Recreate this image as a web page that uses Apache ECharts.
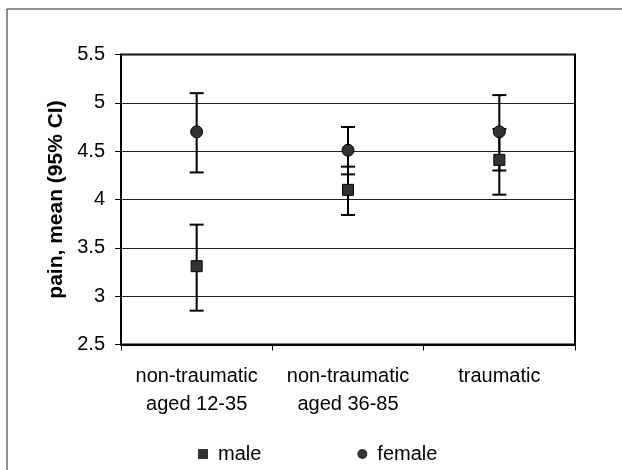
<!DOCTYPE html>
<html>
<head>
<meta charset="utf-8">
<script src="https://cdn.jsdelivr.net/npm/echarts@6/dist/echarts.min.js"></script>
<style>
html, body { margin: 0; padding: 0; background: #fff; }
#chart { width: 622px; height: 470px; }
</style>
</head>
<body>
<div id="chart"></div>
<script>
// data
var categories = ['non-traumatic\naged 12-35', 'non-traumatic\naged 36-85', 'traumatic'];
var maleMean = [3.31, 4.10, 4.41];
var maleLow = [2.85, 3.84, 4.05];
var maleHigh = [3.74, 4.34, 4.73];
var femaleMean = [4.70, 4.51, 4.70];
var femaleLow = [4.28, 4.26, 4.30];
var femaleHigh = [5.10, 4.75, 5.08];
var yTicks = [2.5, 3, 3.5, 4, 4.5, 5, 5.5];

var FONT = 'Liberation Sans';

function barData(low, high) {
    var out = [];
    for (var i = 0; i < low.length; i++) out.push([i, low[i], high[i]]);
    return out;
}

// draws the CI whisker with caps
function renderErrorBar(params, api) {
    var x = api.value(0);
    var top = api.coord([x, api.value(2)]);
    var bot = api.coord([x, api.value(1)]);
    var half = 7;
    var st = { stroke: '#000', lineWidth: 2 };
    return {
        type: 'group',
        children: [
            { type: 'line', shape: { x1: top[0], y1: top[1], x2: bot[0], y2: bot[1] }, style: st },
            { type: 'line', shape: { x1: top[0] - half, y1: top[1], x2: top[0] + half, y2: top[1] }, style: st },
            { type: 'line', shape: { x1: bot[0] - half, y1: bot[1], x2: bot[0] + half, y2: bot[1] }, style: st }
        ]
    };
}

var chart = echarts.init(document.getElementById('chart'));

chart.setOption({
    backgroundColor: '#fff',
    animation: false,
    graphic: [{
        type: 'rect',
        shape: { x: 7, y: 9, width: 700, height: 600 },
        style: { fill: 'none', stroke: '#222', lineWidth: 1 },
        silent: true
    }],
    grid: {
        left: 121, right: 47, top: 54.5, bottom: 125.5,
        show: true, borderColor: '#000', borderWidth: 2, backgroundColor: '#fff'
    },
    legend: {
        left: 193, top: 439,
        itemWidth: 10, itemHeight: 10, itemGap: 96,
        textStyle: { fontFamily: FONT, fontSize: 20, color: '#000', padding: [0, 0, 0, 5] },
        data: [{ name: 'male', icon: 'rect' }, { name: 'female', icon: 'circle' }]
    },
    xAxis: {
        type: 'category',
        data: categories,
        boundaryGap: true,
        axisLine: { lineStyle: { color: '#000', width: 2 } },
        axisTick: { show: true, length: 6, lineStyle: { color: '#000', width: 1 } },
        axisLabel: { fontFamily: FONT, fontSize: 20, color: '#000', margin: 18, lineHeight: 28, interval: 0 },
        splitLine: { show: false }
    },
    yAxis: {
        type: 'value',
        min: yTicks[0], max: yTicks[yTicks.length - 1], interval: 0.5,
        name: 'pain, mean (95% CI)',
        nameLocation: 'middle',
        nameRotate: 90,
        nameGap: 52,
        nameTextStyle: { fontFamily: FONT, fontSize: 21, fontWeight: 'bold', color: '#000' },
        axisLine: { show: true, lineStyle: { color: '#000', width: 2 } },
        axisTick: { show: true, length: 6, lineStyle: { color: '#000', width: 1 } },
        axisLabel: {
            fontFamily: FONT, fontSize: 20, color: '#000', margin: 16,
            formatter: function (v) { return String(v); }
        },
        splitLine: { show: true, lineStyle: { color: '#222', width: 1 } }
    },
    series: [
        {
            name: 'male', type: 'custom', renderItem: renderErrorBar,
            data: barData(maleLow, maleHigh), z: 2, silent: true,
            itemStyle: { color: '#333' }, encode: { x: 0, y: [1, 2] }
        },
        {
            name: 'female', type: 'custom', renderItem: renderErrorBar,
            data: barData(femaleLow, femaleHigh), z: 2, silent: true,
            itemStyle: { color: '#333' }, encode: { x: 0, y: [1, 2] }
        },
        {
            name: 'male', type: 'scatter', data: maleMean, symbol: 'rect', symbolSize: 11,
            itemStyle: { color: '#333', borderColor: '#000', borderWidth: 1, opacity: 1 }, z: 3
        },
        {
            name: 'female', type: 'scatter', data: femaleMean, symbol: 'circle', symbolSize: 12,
            itemStyle: { color: '#333', borderColor: '#000', borderWidth: 1, opacity: 1 }, z: 4
        }
    ]
});

window.onresize = function () {
    chart.resize();
};
</script>
</body>
</html>
